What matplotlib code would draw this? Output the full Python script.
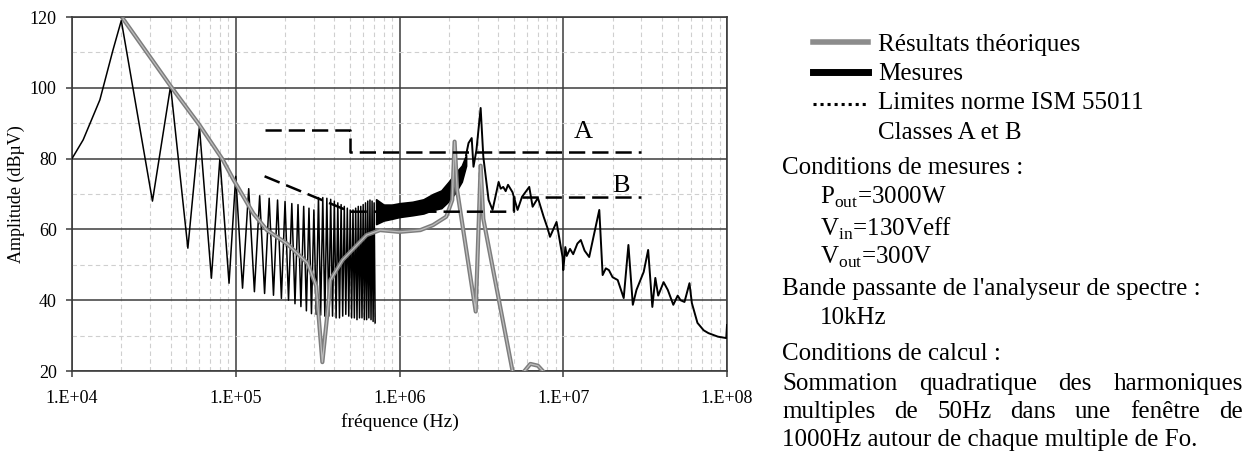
import matplotlib
matplotlib.use("Agg")
import matplotlib.pyplot as plt
import numpy as np
from matplotlib.lines import Line2D
from matplotlib.ticker import FixedLocator, FuncFormatter

plt.rcParams["font.family"] = ["Liberation Serif", "DejaVu Serif"]
plt.rcParams["mathtext.fontset"] = "custom"
plt.rcParams["mathtext.rm"] = "Liberation Serif"

# ---- data ----
# measured spectrum, low-frequency part: rising edge, then harmonic peaks / dips
rise_khz = [10, 11.7, 14.8, 17.8]
rise_db = [80, 85.3, 96.6, 110.7]
peak_khz = [20, 40, 60, 80, 100, 120, 140, 160, 180, 200,
            220, 240, 260, 280, 300, 320, 340, 360, 380, 400,
            420, 440, 460, 480, 500, 520, 540, 560, 580, 600,
            620, 640, 660, 680, 700]
peak_db = [119, 100.5, 89, 80, 75, 71.5, 69.5, 68.8, 68.3, 67.9,
           67.3, 67, 66.5, 66, 65.5, 69, 69, 68.8, 68.5, 68,
           67.5, 67, 66.5, 66, 65.5, 65.5, 66, 66.5, 66.5, 67,
           67.5, 68, 68.3, 68, 67.5]
dip_khz = [31, 51, 71, 91, 110, 130, 150, 170, 190, 210,
           230, 250, 270, 290, 310, 330, 350, 370, 390, 410,
           430, 450, 470, 490, 510, 530, 550, 570, 590, 610,
           630, 650, 670, 690, 710]
dip_db = [68, 54.7, 46.2, 44.8, 43.4, 42.4, 41.9, 41.4, 40.5, 40,
          39, 38.2, 37, 36.2, 36, 35.8, 35.5, 35.5, 35.5, 35,
          35, 35.5, 36, 35.5, 35, 35, 34.5, 35, 35, 34.5,
          34.5, 35, 34.5, 34, 33.6]

# measured spectrum, dense broadband part (drawn as a band)
band_mhz = [0.72, 0.8, 0.9, 1.0, 1.2, 1.4, 1.6, 1.8, 2.0, 2.2, 2.4, 2.55]
band_hi = [68.5, 67, 67, 67.4, 67.8, 68.5, 70, 71, 73.5, 76, 78, 81]
band_lo = [61.5, 62.5, 63, 63.5, 64, 64.5, 65.5, 66, 68, 70.5, 73.5, 78]

# measured spectrum, high-frequency part
hf_mhz = [2.55, 2.64, 2.76, 2.83, 2.95, 3.13, 3.25, 3.5, 3.7, 4.03,
          4.15, 4.3, 4.45, 4.6, 4.9, 5.26, 5.6, 6.2, 6.5, 7.0,
          7.6, 8.0, 8.3, 9.1, 9.9, 10.0, 10.3, 10.5, 11.0, 11.5,
          12.2, 12.8, 13.5, 14.4, 15.3, 16.6, 17.4, 18.2, 19, 20,
          21.5, 23.4, 25, 26.6, 28, 31, 33, 35, 36.5, 38,
          41, 43.5, 47, 50, 52, 55, 59, 61, 66, 72,
          77, 88, 99, 100]
hf_db = [81, 84.4, 85.8, 77.7, 82.4, 94.3, 80.5, 68.3, 65.5, 73.4,
         71.5, 72, 70.8, 72.6, 70.5, 65.5, 69.2, 72, 66.4, 68.9,
         63.5, 60.5, 57.9, 62.1, 52.2, 48.5, 55, 52.5, 54.5, 53,
         56, 57, 54, 52.2, 57.9, 65.5, 47.1, 49, 48.5, 46.5,
         45.7, 40.6, 55.6, 38.7, 42.9, 48, 54.2, 38.1, 46.3, 41.3,
         45.1, 42.9, 38.7, 41.3, 40, 39.5, 44.8, 39.2, 33.6, 31.5,
         30.7, 29.7, 29.3, 33]

# theoretical spectrum
theo_khz = [20.5, 40, 60, 83, 97, 128, 155, 205, 274, 310,
            338, 368, 378, 450, 630, 760, 1000, 1340, 1600, 1930,
            2100, 2170, 2250, 2920, 3130, 3250, 4900]
theo_db = [119.5, 100.5, 89.5, 79.8, 74, 64.5, 59.8, 56, 50.5, 44,
           22.5, 39, 45.7, 51.4, 58.4, 59.8, 59.3, 59.8, 61.2, 63.6,
           68.3, 84.8, 71, 36.8, 78, 63, 20]
bump_khz = [5800, 6300, 7000, 7500]
bump_db = [20, 22, 21.5, 20]

# ISM 55011 limits
limA_khz = [150, 500, 500, 30000]
limA_db = [88, 88, 82, 82]
limB_khz = [150, 500, 5000, 5000, 30000]
limB_db = [75, 65, 65, 69, 69]

W, H = 1253, 459


def fx(x):
    return x / W


def fy(y):
    return 1 - y / H


fig = plt.figure(figsize=(W / 100, H / 100), dpi=100)
ax = fig.add_axes([fx(72), fy(371), fx(727) - fx(72), fy(17) - fy(371)])
ax.set_xscale("log")

# measured
meas_khz = rise_khz + list(np.column_stack((peak_khz, dip_khz)).ravel())
meas_db = rise_db + list(np.column_stack((peak_db, dip_db)).ravel())
ax.plot(np.array(meas_khz) * 1e3, meas_db, color="black", lw=1.1, zorder=3)
ax.fill_between(np.array(band_mhz) * 1e6, band_lo, band_hi,
                color="black", lw=1.2, zorder=3)
ax.plot(np.array(hf_mhz) * 1e6, hf_db, color="black", lw=1.4, zorder=3)

# theoretical
for x, y in [(theo_khz, theo_db), (bump_khz, bump_db)]:
    ax.plot(np.array(x) * 1e3, y, color="#7d7d7d", lw=3.0, zorder=4,
            solid_joinstyle="round")
    ax.plot(np.array(x) * 1e3, y, color="#bdbdbd", lw=0.9, zorder=4)

# limits
for x, y in [(limA_khz, limA_db), (limB_khz, limB_db)]:
    ax.plot(np.array(x) * 1e3, y, color="black", lw=1.8,
            dashes=(6.5, 2.8), zorder=5)
ax.text(1.32e7, 87.5, "A", fontsize=19, ha="center", va="center", zorder=6)
ax.text(2.25e7, 72.3, "B", fontsize=19, ha="center", va="center", zorder=6)

# axes, grid, ticks
ax.set_xlim(1e4, 1e8)
ax.set_ylim(20, 120)
ax.xaxis.set_major_locator(FixedLocator([1e4, 1e5, 1e6, 1e7, 1e8]))
ax.xaxis.set_minor_locator(FixedLocator(
    [m * 10 ** e for e in range(4, 8) for m in range(2, 10)]))
ax.xaxis.set_major_formatter(
    FuncFormatter(lambda v, p: f"1.E+{int(round(np.log10(v))):02d}"))
ax.xaxis.set_minor_formatter(FuncFormatter(lambda v, p: ""))
ax.set_yticks(np.arange(20, 121, 20))
ax.set_yticks(np.arange(30, 120, 10), minor=True)
ax.grid(which="major", color="#3c3c3c", lw=1.1)
ax.grid(which="minor", color="#cfcfcf", lw=0.8, ls=(0, (4, 3)))
ax.set_axisbelow(True)
ax.tick_params(which="major", direction="out", length=4, width=1.1,
               labelsize=13, color="#3c3c3c")
ax.tick_params(axis="x", which="major", pad=10)
ax.tick_params(axis="y", which="major", pad=7)
ax.tick_params(which="minor", length=0)
for s in ax.spines.values():
    s.set_color("#3c3c3c")
    s.set_linewidth(1.2)
ax.set_xlabel("fréquence (Hz)", fontsize=14)
ax.set_ylabel("Amplitude (dBµV)", fontsize=13)
ax.xaxis.set_label_coords(0.5, -0.12)
ax.yaxis.set_label_coords(-0.072, 0.5)

# legend (drawn by hand, like the scanned original)
leg = [
    dict(y=42, color="#8c8c8c", lw=4.0, ls="-"),
    dict(y=72, color="black", lw=5.0, ls="-"),
    dict(y=104, color="black", lw=2.2, ls=(0, (1, 1.3))),
]
for h in leg:
    fig.add_artist(Line2D([fx(813), fx(868)], [fy(h["y"])] * 2,
                          color=h["color"], lw=h["lw"], ls=h["ls"]))
fs = 18
for y, s in [(45, "Résultats théoriques"), (74, "Mesures"),
             (103, "Limites norme ISM 55011"), (133, "Classes A et B")]:
    fig.text(fx(878), fy(y), s, fontsize=fs, va="center")

lines = [
    (782, 168, "Conditions de mesures :"),
    (820, 197, r"P$_{\mathrm{out}}$=3000W"),
    (820, 229, r"V$_{\mathrm{in}}$=130Veff"),
    (820, 257, r"V$_{\mathrm{out}}$=300V"),
    (782, 289, "Bande passante de l'analyseur de spectre :"),
    (820, 318, "10kHz"),
    (782, 354, "Conditions de calcul :"),
    (782, 440, "1000Hz autour de chaque multiple de Fo."),
]
for x, y, s in lines:
    fig.text(fx(x), fy(y), s, fontsize=fs, va="center")

# justified lines
renderer = fig.canvas.get_renderer()
for y, s in [(384, "Sommation quadratique des harmoniques"),
             (412, "multiples de 50Hz dans une fenêtre de")]:
    words = s.split()
    ts = [fig.text(0, fy(y), w, fontsize=fs, va="center") for w in words]
    widths = [t.get_window_extent(renderer).width / fig.bbox.width for t in ts]
    gap = (fx(1243) - fx(782) - sum(widths)) / (len(words) - 1)
    x = fx(782)
    for t, w in zip(ts, widths):
        t.set_x(x)
        x += w + gap

fig.savefig("out.png", dpi=100, facecolor="white")
